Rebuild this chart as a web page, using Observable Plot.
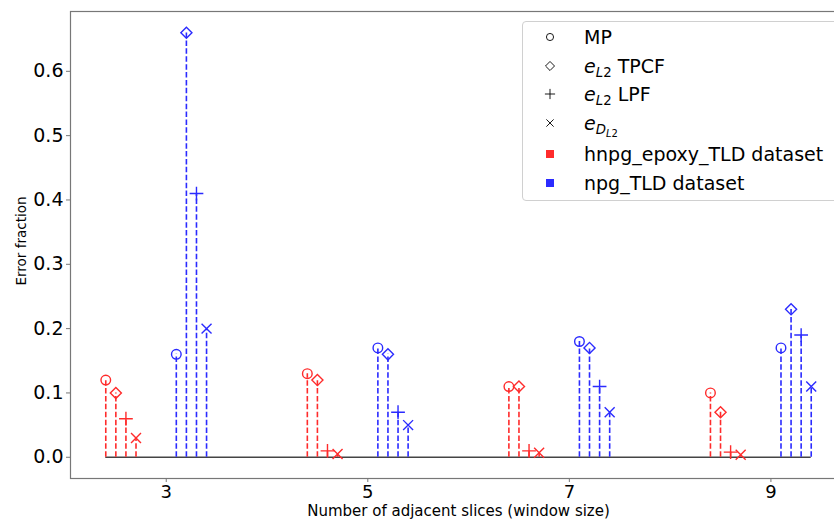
<!DOCTYPE html>
<html>
<head>
<meta charset="utf-8">
<script src="https://cdn.jsdelivr.net/npm/d3@7"></script>
<script src="https://cdn.jsdelivr.net/npm/@observablehq/plot@0.6"></script>
<style>
  body { margin: 0; background: white; overflow: hidden; }
  #wrap { position: relative; width: 834px; height: 521px; overflow: hidden; font-family: "DejaVu Sans", sans-serif; }
  #legend { position: absolute; left: 522px; top: 21px; width: 330px; height: 178px;
            border: 1px solid #d0d0d0; border-radius: 4px; background: rgba(255,255,255,0.85);
            font-size: 19px; color: #000; }
  .row { position: absolute; left: 0; height: 24px; display: flex; align-items: center; }
  .row svg { position: absolute; left: 17px; }
  .row span.t { position: absolute; left: 61px; white-space: nowrap; line-height: 24px; }
  sub { font-size: 70%; vertical-align: -0.3em; line-height: 0; }
  sub sub { font-size: 75%; }
</style>
</head>
<body>
<div id="wrap"></div>
<script>
// ---- data ----
const windows = [3, 5, 7, 9];
const metrics = ["MP", "eL2 TPCF", "eL2 LPF", "eDL2"];
const datasets = ["hnpg_epoxy_TLD dataset", "npg_TLD dataset"];
const hnpgValues = [
  [0.12, 0.10, 0.06, 0.03],
  [0.13, 0.12, 0.01, 0.005],
  [0.11, 0.11, 0.01, 0.007],
  [0.10, 0.07, 0.008, 0.004]
];
const npgValues = [
  [0.16, 0.66, 0.41, 0.20],
  [0.17, 0.16, 0.07, 0.05],
  [0.18, 0.17, 0.11, 0.07],
  [0.17, 0.23, 0.19, 0.11]
];
const hnpgOffsets = [-0.6, -0.5, -0.4, -0.3];
const npgOffsets = [0.1, 0.2, 0.3, 0.4];
const yTicks = [0.0, 0.1, 0.2, 0.3, 0.4, 0.5, 0.6];

const red = "#ff2b2b", blue = "#2b2bff";

const data = [];
windows.forEach((w, i) => metrics.forEach((m, j) => {
  data.push({dataset: datasets[0], x: w + hnpgOffsets[j], v: hnpgValues[i][j], metric: m});
  data.push({dataset: datasets[1], x: w + npgOffsets[j], v: npgValues[i][j], metric: m});
}));
const xmin = d3.min(data, d => d.x), xmax = d3.max(data, d => d.x);
const vmax = d3.max(data, d => d.v);
const xpad = (xmax - xmin) * 0.05, ypad = vmax * 0.05;

const color = d => d.dataset === datasets[0] ? red : blue;
const markerR = {"MP": 4.8, "eL2 TPCF": 5.0, "eL2 LPF": 4.5, "eDL2": 4.6};

const chart = Plot.plot({
  width: 834, height: 521,
  marginLeft: 70, marginRight: -12, marginTop: 11, marginBottom: 43,
  style: {fontFamily: "DejaVu Sans", background: "white", overflow: "hidden"},
  x: {domain: [xmin - xpad, xmax + xpad]},
  y: {domain: [-ypad, vmax + ypad]},
  r: {type: "identity"},
  symbol: {domain: metrics, range: ["circle", "diamond2", "plus", "times"]},
  marks: [
    Plot.frame({stroke: "#777", strokeWidth: 1.2}),
    Plot.axisY({ticks: yTicks, tickFormat: d3.format(".1f"), fontSize: 19, tickSize: 4, tickPadding: 3, stroke: "#777", label: null, color: "#000"}),
    Plot.axisX({ticks: windows, tickFormat: d => d, fontSize: 18, tickSize: 4, tickPadding: 3, stroke: "#777", label: null, color: "#000"}),
    Plot.ruleY([0], {x1: xmin, x2: xmax, stroke: "#444", strokeWidth: 1.6}),
    Plot.ruleX(data, {x: "x", y1: 0, y2: "v", stroke: color, strokeWidth: 1.6, strokeDasharray: "5.5,2.4"}),
    Plot.dot(data, {x: "x", y: "v", symbol: "metric", stroke: color, fill: "none", strokeWidth: 1.4,
      r: d => markerR[d.metric]}),
    Plot.text(["Number of adjacent slices (window size)"], {frameAnchor: "bottom", dy: 33, lineAnchor: "middle", fontSize: 15, fill: "#000"}),
    Plot.text(["Error fraction"], {frameAnchor: "left", dx: -49, dy: -4, rotate: -90, lineAnchor: "middle", textAnchor: "middle", fontSize: 13.5, fill: "#000"})
  ]
});

const wrap = document.getElementById("wrap");
wrap.appendChild(chart);

// ---- legend (overlay inside the axes) ----
const legend = document.createElement("div");
legend.id = "legend";
const rows = [
  {sym: "circle", label: "MP", top: 3},
  {sym: "diamond2", label: "<i>e</i><sub><i>L</i>2</sub> TPCF", top: 32},
  {sym: "plus", label: "<i>e</i><sub><i>L</i>2</sub> LPF", top: 60},
  {sym: "times", label: "<i>e</i><sub><i>D</i><sub><i>L</i>2</sub></sub>", top: 89},
  {sym: "square", fill: red, label: datasets[0], top: 120},
  {sym: "square", fill: blue, label: datasets[1], top: 149}
];
const symTypes = {circle: d3.symbolCircle, diamond2: d3.symbolDiamond2, plus: d3.symbolPlus, times: d3.symbolTimes};
const symSize = {circle: 40, diamond2: 52, plus: 36, times: 36};
rows.forEach(r => {
  const row = document.createElement("div");
  row.className = "row";
  row.style.top = r.top + "px";
  let svg;
  if (r.sym === "square") {
    svg = `<svg width="20" height="24"><rect x="6" y="8" width="8" height="8" fill="${r.fill}"/></svg>`;
  } else {
    const path = d3.symbol(symTypes[r.sym], symSize[r.sym])();
    svg = `<svg width="20" height="24"><path transform="translate(10,12)" d="${path}" fill="none" stroke="#000" stroke-width="0.9"/></svg>`;
  }
  row.innerHTML = svg + `<span class="t">${r.label}</span>`;
  legend.appendChild(row);
});
wrap.appendChild(legend);
</script>
</body>
</html>
